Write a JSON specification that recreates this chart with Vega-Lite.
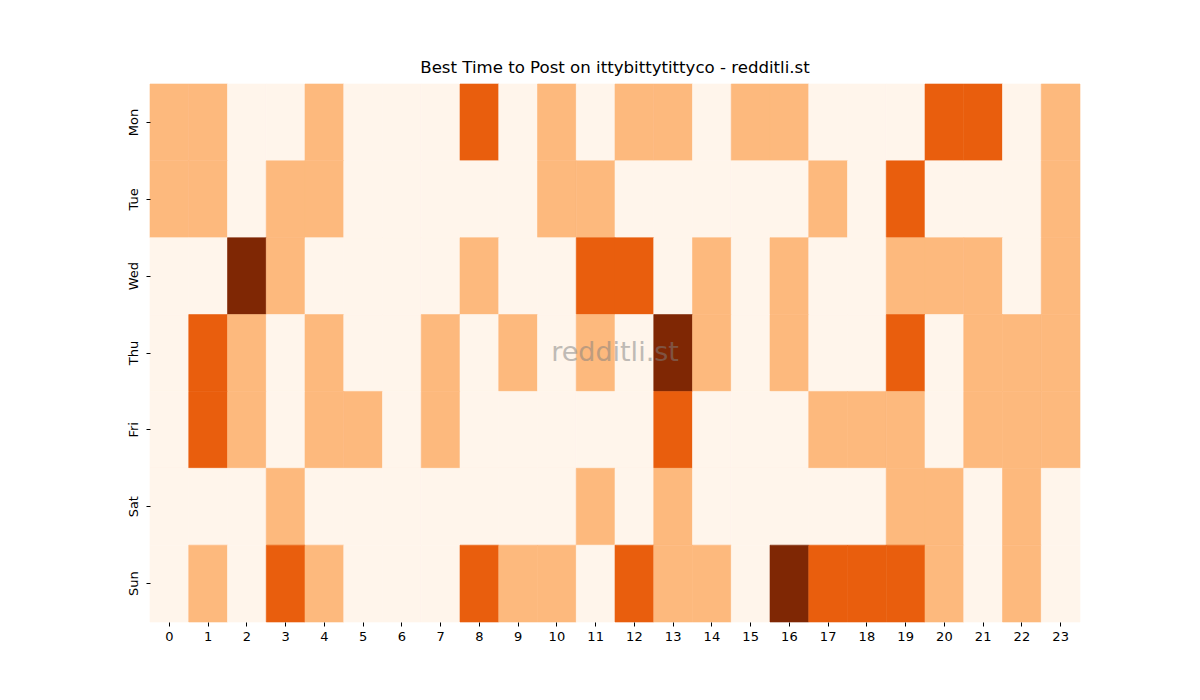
{
  "$schema": "https://vega.github.io/schema/vega-lite/v6.json",
  "width": 930,
  "height": 538,
  "autosize": {"type": "none"},
  "padding": {"left": 150, "top": 84, "right": 120, "bottom": 78},
  "background": "white",
  "config": {
    "view": {"stroke": null},
    "font": "DejaVu Sans"
  },
  "title": {
    "text": "Best Time to Post on ittybittytittyco - redditli.st",
    "fontSize": 16.6,
    "fontWeight": "normal",
    "font": "DejaVu Sans",
    "color": "black",
    "offset": 7
  },
  "data": {
    "values": [
      {"day":"Mon","hour":0,"v":1},{"day":"Mon","hour":1,"v":1},{"day":"Mon","hour":2,"v":0},{"day":"Mon","hour":3,"v":0},{"day":"Mon","hour":4,"v":1},{"day":"Mon","hour":5,"v":0},{"day":"Mon","hour":6,"v":0},{"day":"Mon","hour":7,"v":0},{"day":"Mon","hour":8,"v":2},{"day":"Mon","hour":9,"v":0},{"day":"Mon","hour":10,"v":1},{"day":"Mon","hour":11,"v":0},{"day":"Mon","hour":12,"v":1},{"day":"Mon","hour":13,"v":1},{"day":"Mon","hour":14,"v":0},{"day":"Mon","hour":15,"v":1},{"day":"Mon","hour":16,"v":1},{"day":"Mon","hour":17,"v":0},{"day":"Mon","hour":18,"v":0},{"day":"Mon","hour":19,"v":0},{"day":"Mon","hour":20,"v":2},{"day":"Mon","hour":21,"v":2},{"day":"Mon","hour":22,"v":0},{"day":"Mon","hour":23,"v":1},
      {"day":"Tue","hour":0,"v":1},{"day":"Tue","hour":1,"v":1},{"day":"Tue","hour":2,"v":0},{"day":"Tue","hour":3,"v":1},{"day":"Tue","hour":4,"v":1},{"day":"Tue","hour":5,"v":0},{"day":"Tue","hour":6,"v":0},{"day":"Tue","hour":7,"v":0},{"day":"Tue","hour":8,"v":0},{"day":"Tue","hour":9,"v":0},{"day":"Tue","hour":10,"v":1},{"day":"Tue","hour":11,"v":1},{"day":"Tue","hour":12,"v":0},{"day":"Tue","hour":13,"v":0},{"day":"Tue","hour":14,"v":0},{"day":"Tue","hour":15,"v":0},{"day":"Tue","hour":16,"v":0},{"day":"Tue","hour":17,"v":1},{"day":"Tue","hour":18,"v":0},{"day":"Tue","hour":19,"v":2},{"day":"Tue","hour":20,"v":0},{"day":"Tue","hour":21,"v":0},{"day":"Tue","hour":22,"v":0},{"day":"Tue","hour":23,"v":1},
      {"day":"Wed","hour":0,"v":0},{"day":"Wed","hour":1,"v":0},{"day":"Wed","hour":2,"v":3},{"day":"Wed","hour":3,"v":1},{"day":"Wed","hour":4,"v":0},{"day":"Wed","hour":5,"v":0},{"day":"Wed","hour":6,"v":0},{"day":"Wed","hour":7,"v":0},{"day":"Wed","hour":8,"v":1},{"day":"Wed","hour":9,"v":0},{"day":"Wed","hour":10,"v":0},{"day":"Wed","hour":11,"v":2},{"day":"Wed","hour":12,"v":2},{"day":"Wed","hour":13,"v":0},{"day":"Wed","hour":14,"v":1},{"day":"Wed","hour":15,"v":0},{"day":"Wed","hour":16,"v":1},{"day":"Wed","hour":17,"v":0},{"day":"Wed","hour":18,"v":0},{"day":"Wed","hour":19,"v":1},{"day":"Wed","hour":20,"v":1},{"day":"Wed","hour":21,"v":1},{"day":"Wed","hour":22,"v":0},{"day":"Wed","hour":23,"v":1},
      {"day":"Thu","hour":0,"v":0},{"day":"Thu","hour":1,"v":2},{"day":"Thu","hour":2,"v":1},{"day":"Thu","hour":3,"v":0},{"day":"Thu","hour":4,"v":1},{"day":"Thu","hour":5,"v":0},{"day":"Thu","hour":6,"v":0},{"day":"Thu","hour":7,"v":1},{"day":"Thu","hour":8,"v":0},{"day":"Thu","hour":9,"v":1},{"day":"Thu","hour":10,"v":0},{"day":"Thu","hour":11,"v":1},{"day":"Thu","hour":12,"v":0},{"day":"Thu","hour":13,"v":3},{"day":"Thu","hour":14,"v":1},{"day":"Thu","hour":15,"v":0},{"day":"Thu","hour":16,"v":1},{"day":"Thu","hour":17,"v":0},{"day":"Thu","hour":18,"v":0},{"day":"Thu","hour":19,"v":2},{"day":"Thu","hour":20,"v":0},{"day":"Thu","hour":21,"v":1},{"day":"Thu","hour":22,"v":1},{"day":"Thu","hour":23,"v":1},
      {"day":"Fri","hour":0,"v":0},{"day":"Fri","hour":1,"v":2},{"day":"Fri","hour":2,"v":1},{"day":"Fri","hour":3,"v":0},{"day":"Fri","hour":4,"v":1},{"day":"Fri","hour":5,"v":1},{"day":"Fri","hour":6,"v":0},{"day":"Fri","hour":7,"v":1},{"day":"Fri","hour":8,"v":0},{"day":"Fri","hour":9,"v":0},{"day":"Fri","hour":10,"v":0},{"day":"Fri","hour":11,"v":0},{"day":"Fri","hour":12,"v":0},{"day":"Fri","hour":13,"v":2},{"day":"Fri","hour":14,"v":0},{"day":"Fri","hour":15,"v":0},{"day":"Fri","hour":16,"v":0},{"day":"Fri","hour":17,"v":1},{"day":"Fri","hour":18,"v":1},{"day":"Fri","hour":19,"v":1},{"day":"Fri","hour":20,"v":0},{"day":"Fri","hour":21,"v":1},{"day":"Fri","hour":22,"v":1},{"day":"Fri","hour":23,"v":1},
      {"day":"Sat","hour":0,"v":0},{"day":"Sat","hour":1,"v":0},{"day":"Sat","hour":2,"v":0},{"day":"Sat","hour":3,"v":1},{"day":"Sat","hour":4,"v":0},{"day":"Sat","hour":5,"v":0},{"day":"Sat","hour":6,"v":0},{"day":"Sat","hour":7,"v":0},{"day":"Sat","hour":8,"v":0},{"day":"Sat","hour":9,"v":0},{"day":"Sat","hour":10,"v":0},{"day":"Sat","hour":11,"v":1},{"day":"Sat","hour":12,"v":0},{"day":"Sat","hour":13,"v":1},{"day":"Sat","hour":14,"v":0},{"day":"Sat","hour":15,"v":0},{"day":"Sat","hour":16,"v":0},{"day":"Sat","hour":17,"v":0},{"day":"Sat","hour":18,"v":0},{"day":"Sat","hour":19,"v":1},{"day":"Sat","hour":20,"v":1},{"day":"Sat","hour":21,"v":0},{"day":"Sat","hour":22,"v":1},{"day":"Sat","hour":23,"v":0},
      {"day":"Sun","hour":0,"v":0},{"day":"Sun","hour":1,"v":1},{"day":"Sun","hour":2,"v":0},{"day":"Sun","hour":3,"v":2},{"day":"Sun","hour":4,"v":1},{"day":"Sun","hour":5,"v":0},{"day":"Sun","hour":6,"v":0},{"day":"Sun","hour":7,"v":0},{"day":"Sun","hour":8,"v":2},{"day":"Sun","hour":9,"v":1},{"day":"Sun","hour":10,"v":1},{"day":"Sun","hour":11,"v":0},{"day":"Sun","hour":12,"v":2},{"day":"Sun","hour":13,"v":1},{"day":"Sun","hour":14,"v":1},{"day":"Sun","hour":15,"v":0},{"day":"Sun","hour":16,"v":3},{"day":"Sun","hour":17,"v":2},{"day":"Sun","hour":18,"v":2},{"day":"Sun","hour":19,"v":2},{"day":"Sun","hour":20,"v":1},{"day":"Sun","hour":21,"v":0},{"day":"Sun","hour":22,"v":1},{"day":"Sun","hour":23,"v":0}
    ]
  },
  "encoding": {
    "x": {
      "field": "hour",
      "type": "ordinal",
      "title": null,
      "scale": {"paddingInner": 0, "paddingOuter": 0},
      "axis": {
        "labelAngle": 0,
        "labelFontSize": 13,
        "labelColor": "black",
        "labelFont": "DejaVu Sans",
        "labelPadding": 4,
        "tickColor": "black",
        "tickSize": 4,
        "domain": false,
        "grid": false
      }
    },
    "y": {
      "field": "day",
      "type": "ordinal",
      "title": null,
      "sort": ["Mon", "Tue", "Wed", "Thu", "Fri", "Sat", "Sun"],
      "scale": {"paddingInner": 0, "paddingOuter": 0},
      "axis": {
        "labelAngle": -90,
        "labelAlign": "center",
        "labelBaseline": "bottom",
        "labelFontSize": 13,
        "labelColor": "black",
        "labelFont": "DejaVu Sans",
        "labelPadding": 6,
        "tickColor": "black",
        "tickSize": 4,
        "domain": false,
        "grid": false
      }
    }
  },
  "layer": [
    {
      "mark": {"type": "rect", "strokeWidth": 0.6},
      "encoding": {
        "color": {
          "field": "v",
          "type": "ordinal",
          "scale": {
            "domain": [0, 1, 2, 3],
            "range": ["#fff5eb", "#fdb97d", "#e95e0d", "#7f2704"]
          },
          "legend": null
        },
        "stroke": {
          "field": "v",
          "type": "ordinal",
          "scale": {
            "domain": [0, 1, 2, 3],
            "range": ["#fff5eb", "#fdb97d", "#e95e0d", "#7f2704"]
          },
          "legend": null
        }
      }
    },
    {
      "data": {"values": [{"label": "redditli.st"}]},
      "mark": {
        "type": "text",
        "fontSize": 27,
        "font": "DejaVu Sans",
        "color": "#808080",
        "opacity": 0.5,
        "align": "center",
        "baseline": "middle"
      },
      "encoding": {
        "x": {"datum": 11, "type": "ordinal", "bandPosition": 1},
        "y": {"datum": "Thu", "type": "ordinal"},
        "text": {"field": "label"}
      }
    }
  ]
}
